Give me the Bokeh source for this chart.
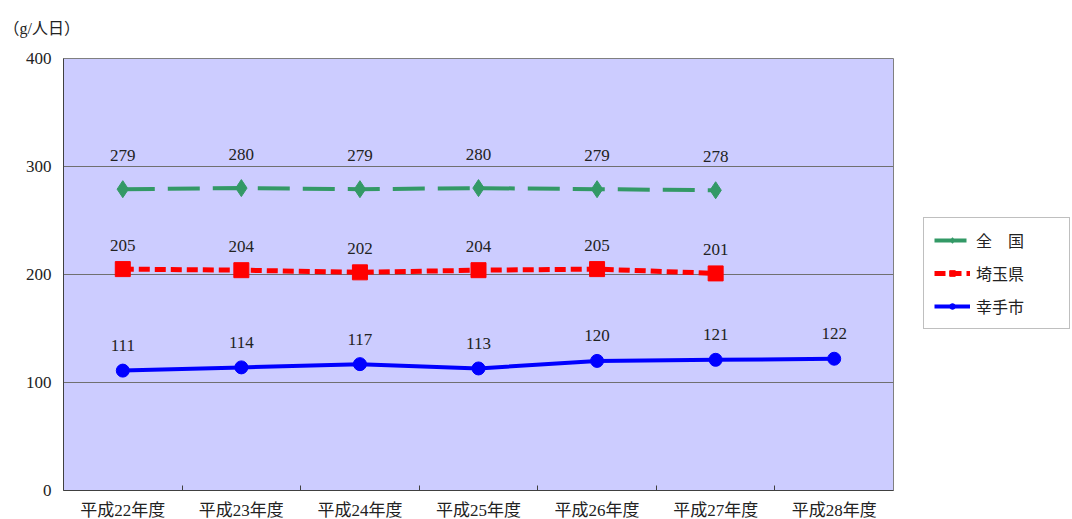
from bokeh.plotting import figure
from bokeh.models import FixedTicker, Legend, LegendItem, Title, Range1d
from bokeh.core.properties import value
from bokeh.embed import file_html
from bokeh.resources import INLINE

years = ["平成22年度", "平成23年度", "平成24年度", "平成25年度",
         "平成26年度", "平成27年度", "平成28年度"]
zenkoku = [279, 280, 279, 280, 279, 278]
saitama = [205, 204, 202, 204, 205, 201]
satte = [111, 114, 117, 113, 120, 121, 122]
y_ticks = [0, 100, 200, 300, 400]

FONT = "Liberation Serif, Noto Sans CJK JP"

pos = list(range(1, len(years) + 1))

p = figure(width=1072, height=519, output_backend="svg", toolbar_location=None,
           x_range=Range1d(0.5, len(years) + 0.5), y_range=Range1d(0, 400),
           min_border_left=63, min_border_right=179, min_border_top=58,
           min_border_bottom=29)
p.frame_width = 830
p.frame_height = 432
p.border_fill_color = "white"
p.background_fill_color = "#CCCCFF"
p.outline_line_color = "#808080"
p.outline_line_width = 1

# x axis: labels at category centres, small tick marks between categories
p.xaxis.ticker = FixedTicker(ticks=pos, minor_ticks=[i + 0.5 for i in pos[:-1]])
p.xaxis.major_label_overrides = {i: y for i, y in zip(pos, years)}
p.xaxis.major_tick_line_color = None
p.xaxis.major_tick_in = 0
p.xaxis.major_tick_out = 0
p.xaxis.minor_tick_in = 5
p.xaxis.minor_tick_out = 0
p.xaxis.minor_tick_line_color = "#404040"
p.xaxis.axis_line_color = "#404040"
p.xaxis.major_label_standoff = 10
p.xaxis.major_label_text_font = FONT
p.xaxis.major_label_text_font_size = "17px"
p.xaxis.major_label_text_color = "#222222"

p.yaxis.ticker = FixedTicker(ticks=y_ticks)
p.yaxis.major_tick_line_color = None
p.yaxis.major_tick_in = 0
p.yaxis.major_tick_out = 0
p.yaxis.minor_tick_line_color = None
p.yaxis.axis_line_color = "#404040"
p.yaxis.major_label_standoff = 12
p.yaxis.major_label_text_font = FONT
p.yaxis.major_label_text_font_size = "17px"
p.yaxis.major_label_text_color = "#222222"

p.xgrid.grid_line_color = None
p.ygrid.ticker = FixedTicker(ticks=[100, 200, 300])
p.ygrid.grid_line_color = "#707070"
p.ygrid.grid_line_width = 1

green = "#339966"
red = "#FF0000"
blue = "#0000FF"

gx = pos[:len(zenkoku)]
rx = pos[:len(saitama)]
bx = pos[:len(satte)]

g_line = p.line(gx, zenkoku, line_color=green, line_width=4, line_dash="32 13")
g_mark = p.scatter(gx, zenkoku, marker="diamond", size=17, fill_color=green, line_color=green)
r_line = p.line(rx, saitama, line_color=red, line_width=5, line_dash="11 5")
r_mark = p.scatter(rx, saitama, marker="square", size=15, fill_color=red, line_color=red)
b_line = p.line(bx, satte, line_color=blue, line_width=4)
b_mark = p.scatter(bx, satte, marker="circle", size=13, fill_color=blue, line_color=blue)

label_style = dict(text_font=value(FONT), text_font_size="17px", text_color="#222222",
                   text_align="center", text_baseline="middle")
p.text(gx, zenkoku, text=[str(v) for v in zenkoku], y_offset=-34, **label_style)
p.text(rx, saitama, text=[str(v) for v in saitama], y_offset=-24, **label_style)
p.text(bx, satte, text=[str(v) for v in satte], y_offset=-25, **label_style)

# unit caption above the value axis
unit = Title(text="（g/人日）", align="left", offset=-60, standoff=39,
             vertical_align="top",
             text_font=FONT, text_font_size="16px", text_font_style="normal",
             text_color="#222222")
p.add_layout(unit, "above")

legend = Legend(items=[
    LegendItem(label="全　国", renderers=[g_line, g_mark]),
    LegendItem(label="埼玉県", renderers=[r_line, r_mark]),
    LegendItem(label="幸手市", renderers=[b_line, b_mark]),
], location=(30, 161))
legend.border_line_color = "#808080"
legend.border_line_width = 1
legend.background_fill_color = "white"
legend.background_fill_alpha = 1
legend.label_text_font = FONT
legend.label_text_font_size = "16px"
legend.label_text_color = "#222222"
legend.glyph_width = 36
legend.glyph_height = 14
legend.spacing = 9
legend.padding = 10
legend.margin = 0
legend.label_standoff = 6
legend.label_width = 83
p.add_layout(legend, "right")

open("out.html", "w").write(file_html(p, INLINE))
